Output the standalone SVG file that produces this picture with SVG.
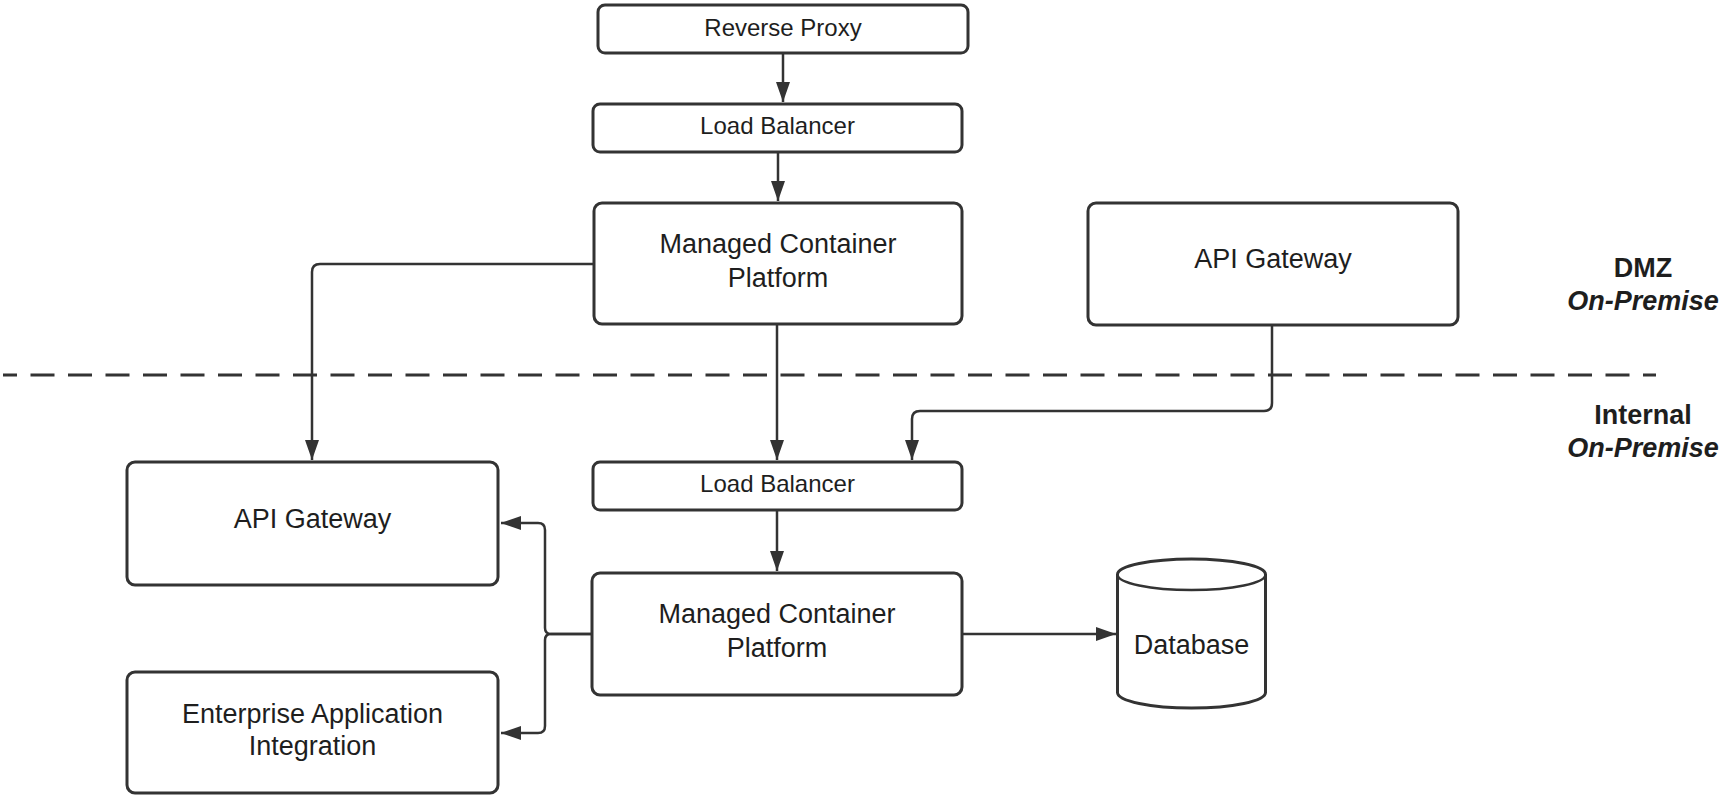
<svg xmlns="http://www.w3.org/2000/svg" width="1725" height="801" viewBox="0 0 1725 801">
  <style>
    .box { fill: #ffffff; stroke: #333333; stroke-width: 3; }
    .t { font-family: "Liberation Sans", Arial, sans-serif; fill: #1e1e1e; text-anchor: middle; }
    .s { font-size: 24px; }
    .m { font-size: 27px; }
    .lbl { font-family: "Liberation Sans", Arial, sans-serif; fill: #1e1e1e; text-anchor: middle; font-size: 27px; font-weight: bold; }
    .it { font-style: italic; }
    .c { fill: none; stroke: #333333; stroke-width: 2.5; marker-end: url(#ah); }
    .cn { fill: none; stroke: #333333; stroke-width: 2.5; }
    .zone { fill: none; stroke: #333333; stroke-width: 3; stroke-dasharray: 24 13.5; stroke-dashoffset: 10; }
  </style>
  <defs>
    <marker id="ah" markerUnits="userSpaceOnUse" markerWidth="21" markerHeight="15" refX="20" refY="7" orient="auto">
      <path d="M0,0 L20,7 L0,14 Z" fill="#333333"/>
    </marker>
  </defs>
  <rect width="1725" height="801" fill="#ffffff"/>

  <g id="zone-divider">
    <line class="zone" x1="3" y1="375" x2="1656" y2="375"/>
  </g>

  <g id="connectors">
    <path class="c" d="M783,54 V102"/>
    <path class="c" d="M778,153 V201"/>
    <path class="c" d="M777,325 V460"/>
    <path class="c" d="M593,264 H320 Q312,264 312,272 V460"/>
    <path class="c" d="M1272,326 V403 Q1272,411 1264,411 H920 Q912,411 912,419 V460"/>
    <path class="c" d="M777,511 V571"/>
    <path class="c" d="M963,634 H1116"/>
    <path class="c" d="M591,634 H551 Q545,634 545,628 V530 Q545,523 538,523 H501"/>
    <path class="c" d="M591,634 H551 Q545,634 545,640 V726 Q545,733 538,733 H501"/>
  </g>

  <g id="reverse-proxy">
    <rect class="box" x="598" y="5" width="370" height="48" rx="7"/>
    <text class="t s" x="783" y="36">Reverse Proxy</text>
  </g>
  <g id="load-balancer-dmz">
    <rect class="box" x="593" y="104" width="369" height="48" rx="7"/>
    <text class="t s" x="777.5" y="134">Load Balancer</text>
  </g>
  <g id="mcp-dmz">
    <rect class="box" x="594" y="203" width="368" height="121" rx="8"/>
    <text class="t m" x="778" y="253">Managed Container</text>
    <text class="t m" x="778" y="287">Platform</text>
  </g>
  <g id="api-gateway-dmz">
    <rect class="box" x="1088" y="203" width="370" height="122" rx="8"/>
    <text class="t m" x="1273" y="268">API Gateway</text>
  </g>
  <g id="load-balancer-internal">
    <rect class="box" x="593" y="462" width="369" height="48" rx="7"/>
    <text class="t s" x="777.5" y="492">Load Balancer</text>
  </g>
  <g id="api-gateway-internal">
    <rect class="box" x="127" y="462" width="371" height="123" rx="8"/>
    <text class="t m" x="312.5" y="528">API Gateway</text>
  </g>
  <g id="eai">
    <rect class="box" x="127" y="672" width="371" height="121" rx="8"/>
    <text class="t m" x="312.5" y="723">Enterprise Application</text>
    <text class="t m" x="312.5" y="755">Integration</text>
  </g>
  <g id="mcp-internal">
    <rect class="box" x="592" y="573" width="370" height="122" rx="8"/>
    <text class="t m" x="777" y="623">Managed Container</text>
    <text class="t m" x="777" y="657">Platform</text>
  </g>
  <g id="database">
    <path class="box" d="M1117.5,574.5 A74,15.5 0 0 1 1265.5,574.5 V692.5 A74,15.5 0 0 1 1117.5,692.5 Z"/>
    <path class="cn" stroke-width="3" d="M1117.5,574.5 A74,15.5 0 0 0 1265.5,574.5"/>
    <text class="t m" x="1191.5" y="654">Database</text>
  </g>

  <g id="zone-labels">
    <text class="lbl" x="1643" y="277">DMZ</text>
    <text class="lbl it" x="1643" y="310">On-Premise</text>
    <text class="lbl" x="1643" y="424">Internal</text>
    <text class="lbl it" x="1643" y="457">On-Premise</text>
  </g>
</svg>
